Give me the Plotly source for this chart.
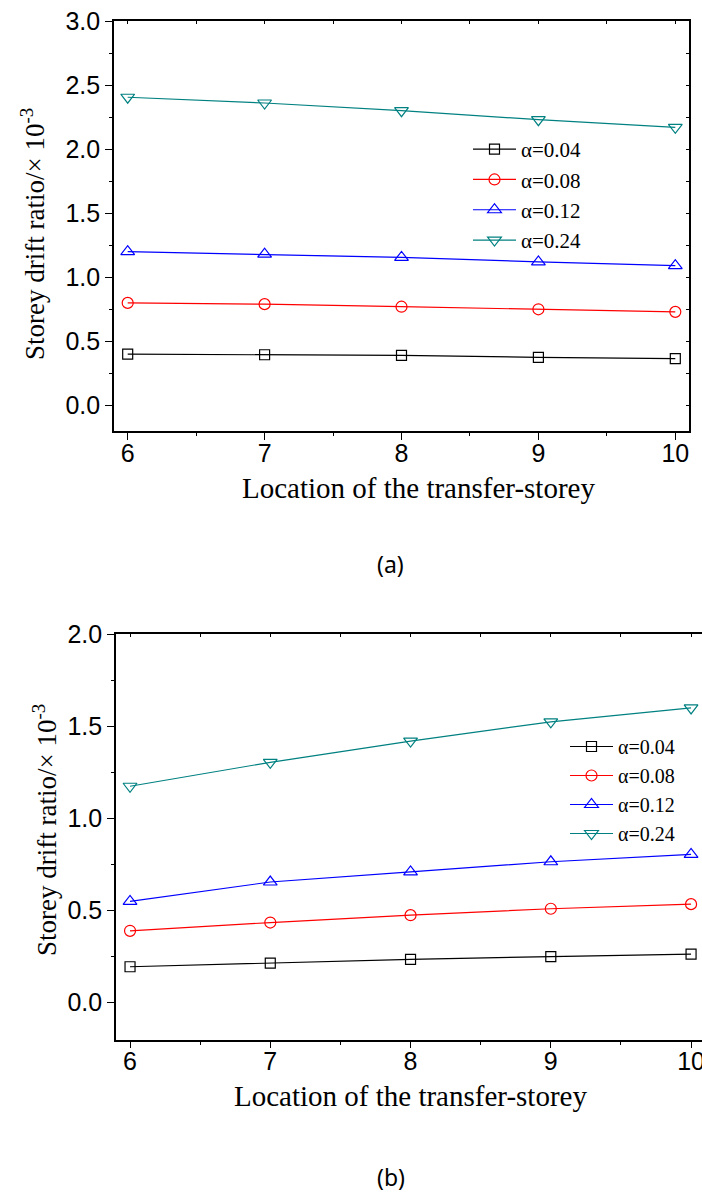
import plotly.graph_objects as go

W, H = 702, 1193

# ---------------- data ----------------
locations = [6, 7, 8, 9, 10]
series_names = ["α=0.04", "α=0.08", "α=0.12", "α=0.24"]

# (a)
a_004 = [0.40, 0.395, 0.39, 0.375, 0.365]
a_008 = [0.80, 0.79, 0.77, 0.75, 0.73]
a_012 = [1.20, 1.18, 1.155, 1.12, 1.09]
a_024 = [2.405, 2.36, 2.30, 2.23, 2.17]

# (b)
b_004 = [0.195, 0.215, 0.235, 0.25, 0.263]
b_008 = [0.39, 0.435, 0.475, 0.51, 0.535]
b_012 = [0.55, 0.655, 0.71, 0.765, 0.805]
b_024 = [1.175, 1.305, 1.42, 1.525, 1.60]

colors = ["#000000", "#FF0000", "#0000FF", "#008080"]
symbols = ["square-open", "circle-open", "triangle-up-open", "triangle-down-open"]
msizes = [10, 11, 12, 12]

x_title = "Location of the transfer-storey"
y_title = "Storey drift ratio/× 10<sup>-3</sup>"

SERIF = "Liberation Serif, Times New Roman, serif"
SANS = "Liberation Sans, Arial, sans-serif"

def px_x(p):
    return p / W

def px_y(p):
    return (H - p) / H

fig = go.Figure()

for vals, name, c, s, ms in zip([a_004, a_008, a_012, a_024], series_names, colors, symbols, msizes):
    fig.add_trace(go.Scatter(
        x=locations, y=vals, name=name, mode="lines+markers",
        line=dict(color=c, width=1.2),
        marker=dict(symbol=s, size=ms, color=c, line=dict(color=c, width=1.2)),
        xaxis="x", yaxis="y", legend="legend"))

for vals, name, c, s, ms in zip([b_004, b_008, b_012, b_024], series_names, colors, symbols, msizes):
    fig.add_trace(go.Scatter(
        x=locations, y=vals, name=name, mode="lines+markers",
        line=dict(color=c, width=1.2),
        marker=dict(symbol=s, size=ms, color=c, line=dict(color=c, width=1.2)),
        xaxis="x2", yaxis="y2", legend="legend2"))

# empty traces to instantiate the mirror (top/right) axes
fig.add_trace(go.Scatter(x=[], y=[], xaxis="x3", yaxis="y", showlegend=False))
fig.add_trace(go.Scatter(x=[], y=[], xaxis="x", yaxis="y3", showlegend=False))
fig.add_trace(go.Scatter(x=[], y=[], xaxis="x4", yaxis="y2", showlegend=False))

tickfont = dict(family=SANS, size=25, color="black")

common_x = dict(
    tickmode="linear", tick0=6, dtick=1, ticks="outside", ticklen=7, tickwidth=1.3,
    tickcolor="black", showline=True, linecolor="black", linewidth=1.6, automargin=False,
    showgrid=False, zeroline=False, tickfont=tickfont, ticklabeloverflow="allow",
    ticklabelstandoff=-8,
    minor=dict(dtick=0.5, tick0=6, ticks="outside", ticklen=3.5, tickwidth=1.3, tickcolor="black", showgrid=False),
)
common_y = dict(
    tickmode="linear", tick0=0, dtick=0.5, ticks="outside", ticklen=7, tickwidth=1.3,
    tickcolor="black", showline=True, linecolor="black", linewidth=1.6, automargin=False,
    showgrid=False, zeroline=False, tickfont=tickfont, tickformat=".1f", ticklabeloverflow="allow",
    minor=dict(dtick=0.25, tick0=0, ticks="outside", ticklen=3.5, tickwidth=1.3, tickcolor="black", showgrid=False),
)

mirror_common = dict(ticks="inside", ticklen=3, tickwidth=1.2, tickcolor="black",
                     showticklabels=False, showline=True, linecolor="black", automargin=False,
                     linewidth=1.6, showgrid=False, zeroline=False, tickmode="linear")

fig.update_layout(
    width=W, height=H,
    margin=dict(l=0, r=0, t=0, b=0, autoexpand=False),
    paper_bgcolor="white", plot_bgcolor="white",
    xaxis=dict(domain=[px_x(114), px_x(689)], range=[5.9, 10.1], anchor="y", **common_x),
    yaxis=dict(domain=[px_y(431), px_y(21)], range=[-0.2, 3.0], anchor="x", **common_y),
    xaxis2=dict(domain=[px_x(116), 1.0], range=[5.9, 10.078], anchor="y2", **common_x),
    yaxis2=dict(domain=[px_y(1039.5), px_y(634.3)], range=[-0.2, 2.0], anchor="x2", **common_y),
    xaxis3=dict(overlaying="x", side="top", anchor="y", range=[5.9, 10.1], tick0=6, dtick=0.5, **mirror_common),
    yaxis3=dict(overlaying="y", side="right", anchor="x", range=[-0.2, 3.0], tick0=0, dtick=0.25, **mirror_common),
    xaxis4=dict(overlaying="x2", side="top", anchor="y2", range=[5.9, 10.078], tick0=6, dtick=0.5, **mirror_common),
    legend=dict(x=px_x(468), y=px_y(129), xanchor="left", yanchor="top", itemwidth=43,
                bgcolor="rgba(0,0,0,0)", font=dict(family=SERIF, size=21, color="black"),
                tracegroupgap=0),
    legend2=dict(x=px_x(565), y=px_y(727), xanchor="left", yanchor="top", itemwidth=43,
                 bgcolor="rgba(0,0,0,0)", font=dict(family=SERIF, size=20, color="black"),
                 tracegroupgap=0),
    showlegend=True,
)

ann_font_title = dict(family=SERIF, size=29, color="black")
ann_font_y = dict(family=SERIF, size=27, color="black")
ann_font_cap = dict(family="Noto Sans, DejaVu Sans, sans-serif", size=23, color="black")

annotations = [
    dict(text=x_title, x=px_x(419), y=px_y(488), font=ann_font_title),
    dict(text=x_title, x=px_x(410), y=px_y(1096), font=ann_font_title),
    dict(text=y_title, x=px_x(33), y=px_y(234), textangle=-90, font=ann_font_y),
    dict(text=y_title, x=px_x(45), y=px_y(830), textangle=-90, font=ann_font_y),
    dict(text="(a)", x=px_x(390), y=px_y(564), font=ann_font_cap),
    dict(text="(b)", x=px_x(391), y=px_y(1177), font=ann_font_cap),
]
for a in annotations:
    fig.add_annotation(xref="paper", yref="paper", showarrow=False,
                       xanchor="center", yanchor="middle", **a)

fig.write_html("out.html", config={"displayModeBar": False},
               post_script="document.body.style.margin='0';document.body.style.overflow='hidden';")
